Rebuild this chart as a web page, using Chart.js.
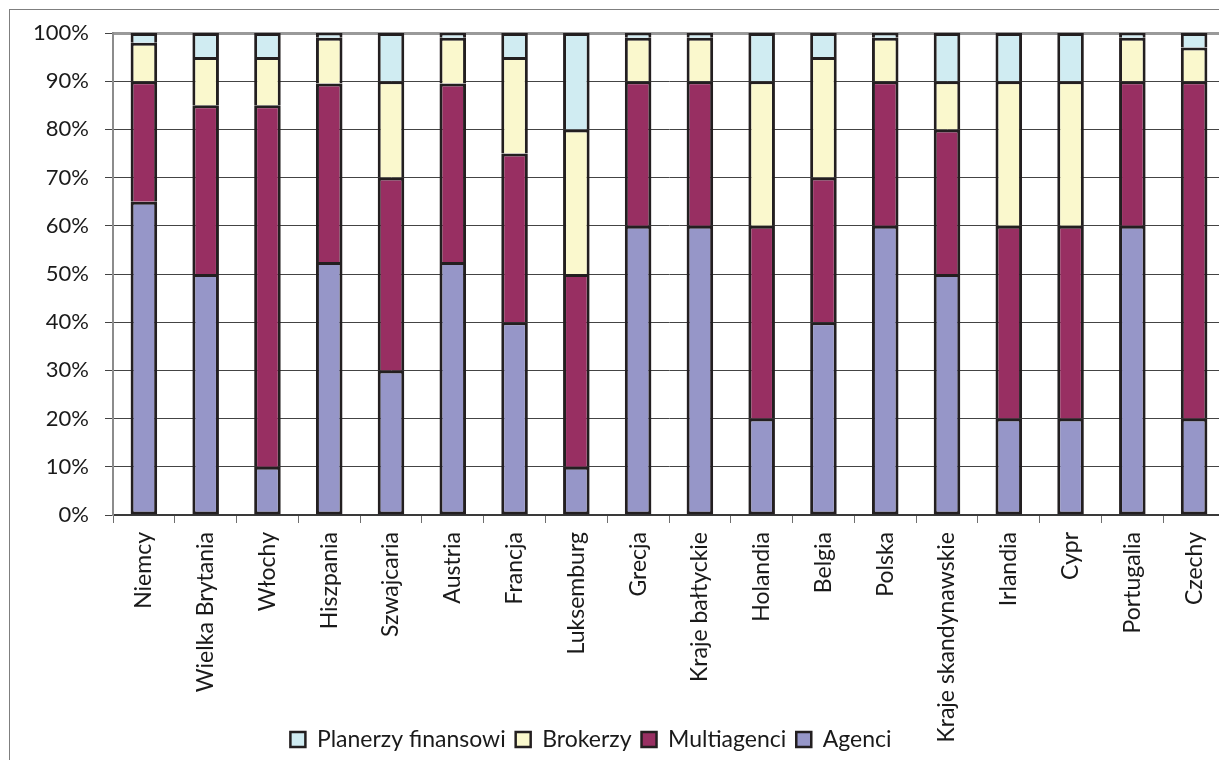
<!DOCTYPE html>
<html lang="pl">
<head>
<meta charset="utf-8">
<title>Struktura kanałów dystrybucji</title>
<script src="https://cdn.jsdelivr.net/npm/chart.js@4.4.1/dist/chart.umd.min.js"></script>
<style>
  html, body { margin: 0; padding: 0; background: #ffffff; overflow: hidden; width: 1219px; height: 760px; }
  #frame { position: absolute; left: 9px; top: 9px; width: 1300px; height: 900px; border: 1px solid #7f7f7f; box-sizing: border-box; }
  #chart { position: absolute; left: 0; top: 0; }
</style>
</head>
<body>
<div id="frame"></div>
<canvas id="chart" width="1240" height="803"></canvas>
<script>
// Kraje (kategorie osi X)
const countries = [
  'Niemcy', 'Wielka Brytania', 'Włochy', 'Hiszpania', 'Szwajcaria', 'Austria',
  'Francja', 'Luksemburg', 'Grecja', 'Kraje bałtyckie', 'Holandia', 'Belgia',
  'Polska', 'Kraje skandynawskie', 'Irlandia', 'Cypr', 'Portugalia', 'Czechy'
];

// Udział poszczególnych kanałów (%)
const agenci      = [65, 50, 10, 52.5, 30, 52.5, 40, 10, 60, 60, 20, 40, 60, 50, 20, 20, 60, 20];
const multiagenci = [25, 35, 75, 37, 40, 37, 35, 40, 30, 30, 40, 30, 30, 30, 40, 40, 30, 70];
const brokerzy    = [8, 10, 10, 9.5, 20, 9.5, 20, 30, 9, 9, 30, 25, 9, 10, 30, 30, 9, 7];
const planerzy    = [2, 5, 5, 1, 10, 1, 5, 20, 1, 1, 10, 5, 1, 10, 10, 10, 1, 3];

// Podziałka osi Y
const yTicks = [0, 10, 20, 30, 40, 50, 60, 70, 80, 90, 100];

const FONT = 'Lato, sans-serif';
const TEXT = '#1a1a1a';
const EDGE = '#231f20';

function series(label, data, color, skipped) {
  return {
    label: label,
    data: data,
    backgroundColor: color,
    borderColor: EDGE,
    borderWidth: 3,
    borderSkipped: skipped,
    categoryPercentage: 1.0,
    barPercentage: 0.43
  };
}

// Legenda przesunięta w górę, obok długich etykiet osi X, i wyśrodkowana
const legendPlacement = {
  id: 'legendPlacement',
  afterLayout(chart) {
    const lg = chart.legend;
    if (!lg) return;
    const dx = 591 - (lg.left + lg.right) / 2;
    const dy = 718 - lg.top;
    lg.left += dx; lg.right += dx;
    lg.top += dy; lg.bottom += dy;
  }
};

new Chart(document.getElementById('chart'), {
  type: 'bar',
  data: {
    labels: countries,
    datasets: [
      series('Agenci', agenci, '#9696c8', false),
      series('Multiagenci', multiagenci, '#982f62', 'bottom'),
      series('Brokerzy', brokerzy, '#faf8cd', 'bottom'),
      series('Planerzy finansowi', planerzy, '#d0ecf2', 'bottom')
    ]
  },
  options: {
    responsive: false,
    devicePixelRatio: 1,
    animation: false,
    layout: { padding: { left: 0, right: 15, top: 33, bottom: 0 } },
    plugins: {
      tooltip: { enabled: false },
      legend: {
        position: 'bottom',
        reverse: true,
        labels: {
          font: { family: FONT, size: 23 },
          color: TEXT,
          boxWidth: 15,
          boxHeight: 15,
          padding: 10,
          generateLabels(chart) {
            return chart.data.datasets.map((ds, i) => ({
              text: ds.label,
              fillStyle: ds.backgroundColor,
              strokeStyle: EDGE,
              lineWidth: 2.5,
              fontColor: TEXT,
              hidden: false,
              datasetIndex: i
            }));
          }
        }
      }
    },
    scales: {
      x: {
        stacked: true,
        offset: true,
        afterFit(scale) { scale.height = 245; },
        grid: {
          drawOnChartArea: false,
          drawTicks: true,
          tickLength: 8,
          tickColor: '#6e6e6e',
          lineWidth: 1
        },
        border: { display: true, color: '#3a3a3a', width: 2 },
        ticks: {
          autoSkip: false,
          maxRotation: 90,
          minRotation: 90,
          padding: 9,
          color: TEXT,
          font: { family: FONT, size: 23 }
        }
      },
      y: {
        stacked: true,
        min: 0,
        max: 100,
        afterFit(scale) { scale.width = 113; },
        afterBuildTicks(scale) { scale.ticks = yTicks.map(v => ({ value: v })); },
        grid: {
          color: ctx => (ctx.tick && ctx.tick.value === 100) ? '#9a9a9a' : '#444444',
          lineWidth: ctx => (ctx.tick && ctx.tick.value === 100) ? 3 : 1,
          drawTicks: true,
          tickLength: 8,
          tickColor: '#444444',
          tickWidth: 1
        },
        border: { display: true, color: '#8c8c8c', width: 2 },
        ticks: {
          padding: 16,
          color: TEXT,
          font: { family: FONT, size: 22 },
          callback: v => v + '%'
        }
      }
    }
  },
  plugins: [legendPlacement]
});
</script>
</body>
</html>
